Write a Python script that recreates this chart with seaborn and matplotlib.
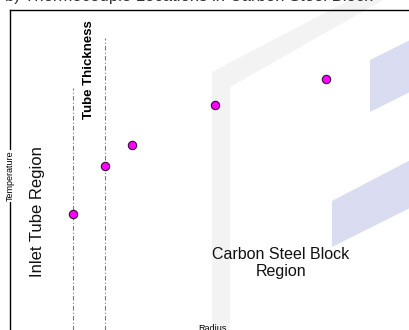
import matplotlib
matplotlib.use("Agg")
import matplotlib.pyplot as plt
import matplotlib.transforms as mtransforms
from matplotlib.patches import Polygon
import pandas as pd
import seaborn as sns

# Thermocouple readings along the radial direction (arbitrary units)
position = [15.75, 23.75, 30.5, 51.25, 79.0]
temperature = [36.3, 51.3, 57.8, 70.3, 78.4]

# Inner and outer wall of the inlet tube, with the heights of the marker lines
tube_walls = [15.75, 23.75]
wall_line_tops = [75.6, 91.3]

sns.set_theme(style="white")
plt.rcParams["font.family"] = ["Liberation Sans", "DejaVu Sans"]

W, H = 410, 330
fig = plt.figure(figsize=(W / 100, H / 100), dpi=100)
fig.patch.set_facecolor("white")

# pixel coordinates measured from the top-left corner of the figure
px = mtransforms.Affine2D().scale(1 / W, -1 / H).translate(0, 1) + fig.transFigure

ax = fig.add_axes([10 / W, 0, 400 / W, 320 / H])
ax.set_xlim(0, 100)
ax.set_ylim(0, 100)
ax.set_facecolor("none")
ax.set_xticks([])
ax.set_yticks([])
for side in ("right", "bottom"):
    ax.spines[side].set_visible(False)
for side in ("left", "top"):
    ax.spines[side].set_color("black")
    ax.spines[side].set_linewidth(1.0)
    ax.spines[side].set_zorder(6)

# Sketch of the carbon steel block (light 3-D outline)
band = Polygon([(212, 340), (212, 72), (420, -37), (420, -21), (230, 87), (230, 340)],
               closed=True, transform=px, facecolor="#f3f3f3", edgecolor="none", zorder=0)
face_top = Polygon([(370, 60), (420, 35), (420, 87), (370, 112)],
                   closed=True, transform=px, facecolor="#dadcf2", edgecolor="none", zorder=0)
face_low = Polygon([(332, 201), (420, 155), (420, 203), (332, 247)],
                   closed=True, transform=px, facecolor="#dadcf2", edgecolor="none", zorder=0)
for p in (band, face_top, face_low):
    fig.add_artist(p)

# Tube wall boundaries
ax.vlines(tube_walls, 0, wall_line_tops, colors="#7a7a7a", linewidth=0.8,
          linestyles=[(0, (4, 2, 1, 2))], zorder=2)

df = pd.DataFrame({"position": position, "temperature": temperature})
sns.scatterplot(data=df, x="position", y="temperature", ax=ax, color="#ff00ff",
                edgecolor="#3a0a3a", linewidth=0.8, s=36, zorder=5, legend=False)
ax.set_xlabel("")
ax.set_ylabel("")

# Labels
fig.text(5, 0.5, "b) Thermocouple Locations in Carbon Steel Block", transform=px,
         fontsize=12, ha="left", va="baseline", color="#333333")
fig.text(10, 176, "Temperature", transform=px, rotation=90, fontsize=6.5,
         ha="center", va="center", color="black", zorder=7,
         bbox=dict(facecolor="white", edgecolor="none", pad=0.5))
fig.text(89, 70, "Tube Thickness", transform=px, rotation=90, fontsize=9.5,
         fontweight="bold", ha="center", va="center", color="black")
fig.text(38, 212, "Inlet Tube Region", transform=px, rotation=90, fontsize=12,
         ha="center", va="center", color="#111111")
fig.text(281, 263, "Carbon Steel Block\nRegion", transform=px, fontsize=11.5,
         ha="center", va="center", multialignment="center", color="#111111")
fig.text(212, 324, "Radius", transform=px, fontsize=6.5, ha="center", va="top",
         color="black")

fig.savefig("out.png", dpi=100, facecolor="white")
